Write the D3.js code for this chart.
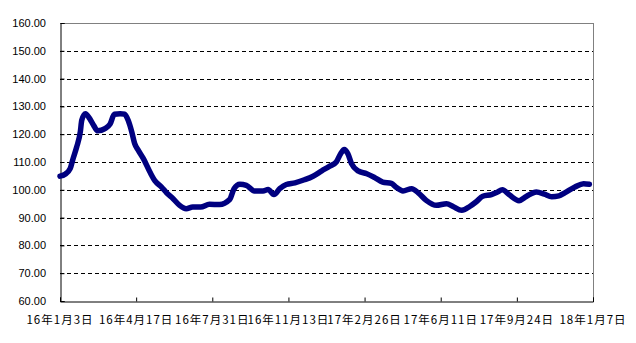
<!DOCTYPE html>
<html>
<head>
<meta charset="utf-8">
<script src="https://cdn.jsdelivr.net/npm/d3@7"></script>
<style>
  body { margin: 0; background: #fff; }
  svg { display: block; }
</style>
</head>
<body>
<svg id="chart" width="636" height="343"></svg>
<script>
// index values (date, value)
const dates = [
  "2016-01-03","2016-01-10","2016-01-17","2016-01-21","2016-01-26","2016-01-31","2016-02-02","2016-02-07",
  "2016-02-13","2016-02-19","2016-02-24","2016-03-05","2016-03-12","2016-03-18","2016-03-26","2016-04-01",
  "2016-04-06","2016-04-11","2016-04-15","2016-04-20","2016-04-27","2016-05-06","2016-05-13","2016-05-22",
  "2016-05-29","2016-06-07","2016-06-16","2016-06-25","2016-07-04","2016-07-15","2016-07-27","2016-08-10",
  "2016-08-24","2016-08-30","2016-09-07","2016-09-16","2016-09-27","2016-10-09","2016-10-16","2016-10-24",
  "2016-11-01","2016-11-10","2016-11-22","2016-12-05","2016-12-17","2016-12-29","2017-01-09","2017-01-18",
  "2017-01-24","2017-01-29","2017-02-03","2017-02-08","2017-02-17","2017-03-01","2017-03-12","2017-03-23",
  "2017-04-04","2017-04-11","2017-04-20","2017-05-02","2017-05-11","2017-05-22","2017-06-05","2017-06-19",
  "2017-06-28","2017-07-10","2017-07-21","2017-07-30","2017-08-08","2017-08-20","2017-08-27","2017-09-04",
  "2017-09-14","2017-09-27","2017-10-07","2017-10-21","2017-11-01","2017-11-11","2017-11-21","2017-11-29",
  "2017-12-13","2017-12-25","2018-01-02"
];
const values = [
  104.9,105.6,107.6,111.2,115.4,120.8,125.0,127.4,
  125.6,122.9,121.2,122.0,123.6,127.2,127.4,127.2,
  125.0,120.8,116.6,114.2,111.2,106.4,103.2,101.0,
  98.9,96.8,94.4,93.2,93.8,93.8,94.8,94.7,
  96.5,100.4,102.0,101.6,99.6,99.6,100.1,98.3,
  100.4,101.9,102.5,103.6,104.9,106.8,108.5,110.0,
  113.0,114.5,113.0,109.4,106.8,105.8,104.4,102.8,
  102.3,100.8,99.6,100.4,98.9,96.2,94.4,95.0,
  94.0,92.6,94.0,95.7,97.7,98.3,99.0,100.0,
  98.1,96.1,97.6,99.2,98.4,97.5,97.8,98.9,
  101.0,102.2,102.0
];
const yTicks = [60, 70, 80, 90, 100, 110, 120, 130, 140, 150, 160];
const xTickDates = ["2016-01-03","2016-04-17","2016-07-31","2016-11-13","2017-02-26","2017-06-11","2017-09-24","2018-01-07"];

const parse = d3.timeParse("%Y-%m-%d");
const data = dates.map((d, i) => ({ date: parse(d), value: values[i] }));

const margin = { top: 23, left: 60, right: 43, bottom: 42 };
const width = 636, height = 343;
const w = width - margin.left - margin.right;
const h = height - margin.top - margin.bottom;

const svg = d3.select("#chart");
const g = svg.append("g").attr("transform", "translate(" + [margin.left, margin.top] + ")");

const x = d3.scaleTime()
  .domain([parse(xTickDates[0]), parse(xTickDates[xTickDates.length - 1])])
  .range([0, w]);
const y = d3.scaleLinear().domain([60, 160]).range([h, 0]);

// dashed gridlines
g.selectAll(".grid")
  .data(yTicks.filter(v => v > 60 && v < 160))
  .enter().append("line")
  .attr("x1", 0).attr("x2", w)
  .attr("y1", d => Math.round(y(d)) + 0.5).attr("y2", d => Math.round(y(d)) + 0.5)
  .attr("stroke", "#000").attr("stroke-width", 1).attr("stroke-dasharray", "4,3");

// plot frame: top and right in gray
g.append("line").attr("x1", 0).attr("x2", w).attr("y1", 0.5).attr("y2", 0.5)
  .attr("stroke", "#808080");
g.append("line").attr("x1", w + 0.5).attr("x2", w + 0.5).attr("y1", 0).attr("y2", h)
  .attr("stroke", "#808080");

// y axis
const yAxis = g.append("g")
  .attr("transform", "translate(0.5,0)")
  .call(d3.axisRight(y).tickValues(yTicks).tickSize(4).tickFormat(""));
yAxis.select(".domain").attr("stroke", "#000");
yAxis.selectAll("text").remove();
g.selectAll(".ylabel")
  .data(yTicks)
  .enter().append("text")
  .attr("x", -14)
  .attr("y", d => y(d))
  .attr("dy", "0.36em")
  .attr("text-anchor", "end")
  .style("font-family", "Arial, 'Liberation Sans', sans-serif")
  .style("font-size", "11px")
  .text(d => d.toFixed(2));

// x axis
const xAxis = g.append("g")
  .attr("transform", "translate(0," + (h + 0.5) + ")")
  .call(d3.axisTop(x).tickValues(xTickDates.map(parse)).tickSize(4).tickFormat(""));
xAxis.select(".domain").attr("stroke", "#000");
g.selectAll(".xlabel")
  .data(xTickDates.map(parse))
  .enter().append("text")
  .attr("x", d => x(d))
  .attr("y", h + 23)
  .attr("text-anchor", "middle")
  .style("font-family", "'Noto Sans CJK JP', sans-serif")
  .style("font-size", "11.5px")
  .style("letter-spacing", "1px")
  .text(d => (d.getFullYear() % 100) + "年" + (d.getMonth() + 1) + "月" + d.getDate() + "日");

// series
const line = d3.line()
  .x(d => x(d.date))
  .y(d => y(d.value))
  .curve(d3.curveMonotoneX);
g.append("path")
  .datum(data)
  .attr("fill", "none")
  .attr("stroke", "#000080")
  .attr("stroke-width", 5.5)
  .attr("stroke-linejoin", "round")
  .attr("stroke-linecap", "round")
  .attr("d", line);
</script>
</body>
</html>
